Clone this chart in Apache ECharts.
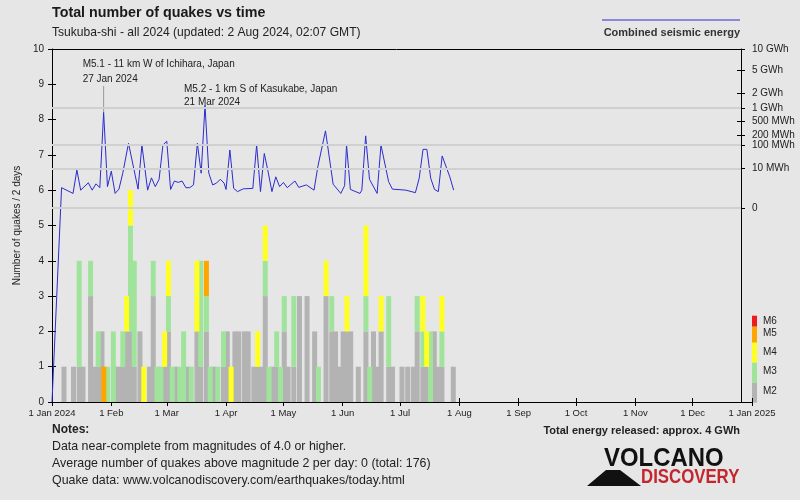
<!DOCTYPE html>
<html><head><meta charset="utf-8">
<script src="https://cdn.jsdelivr.net/npm/echarts@6/dist/echarts.min.js"></script>
<style>html,body{margin:0;padding:0;background:#e6e6e6}#c{width:800px;height:500px}</style>
</head><body><div id="c"></div>
<script>
// ---------------- DATA ----------------
const barDates = ['2024-01-06','2024-01-11','2024-01-14','2024-01-16','2024-01-20','2024-01-22','2024-01-24','2024-01-26','2024-01-27','2024-01-29',
 '2024-02-01','2024-02-02','2024-02-04','2024-02-06','2024-02-08','2024-02-10','2024-02-12','2024-02-15','2024-02-17','2024-02-20',
 '2024-02-22','2024-02-24','2024-02-26','2024-02-28','2024-03-01','2024-03-03','2024-03-05','2024-03-07','2024-03-09','2024-03-11',
 '2024-03-13','2024-03-16','2024-03-18','2024-03-21','2024-03-23','2024-03-25','2024-03-27','2024-03-30','2024-04-01','2024-04-03',
 '2024-04-05','2024-04-07','2024-04-10','2024-04-12','2024-04-15','2024-04-17','2024-04-19','2024-04-21','2024-04-23','2024-04-25',
 '2024-04-27','2024-04-29','2024-05-01','2024-05-03','2024-05-06','2024-05-09','2024-05-13','2024-05-17','2024-05-19','2024-05-23',
 '2024-05-26','2024-05-28','2024-05-30','2024-06-01','2024-06-03','2024-06-05','2024-06-09','2024-06-13','2024-06-15','2024-06-17',
 '2024-06-19','2024-06-21','2024-06-25','2024-06-27','2024-07-02','2024-07-05','2024-07-08','2024-07-10','2024-07-13','2024-07-15',
 '2024-07-17','2024-07-19','2024-07-21','2024-07-23','2024-07-29'];
const m2 = [1,1,1,1,3,1,1,2,0,0, 0,1,1,1,2,2,1,2,0,1, 3,0,0,1,2,0,1,0,0,1, 0,2,1,2,0,1,0,1,2,0,
            2,2,2,2,1,1,1,3,0,1, 1,0,2,1,1,3,3,2,0,3, 2,2,1,2,2,2,1,2,0,2, 1,2,1,1,1,1,1,2,1,1, 0,2,1,1,1];
const m3 = [0,0,3,0,1,0,1,0,0,1, 2,0,0,1,0,3,3,0,0,0, 1,1,1,0,1,1,0,1,2,0, 1,0,3,1,1,0,1,1,0,0,
            0,0,0,0,0,0,0,1,1,0, 1,1,1,0,2,0,0,0,1,0, 1,0,0,0,0,0,0,1,1,0, 0,0,2,0,0,0,0,1,1,0, 2,0,0,1,0];
const m4 = [0,0,0,0,0,0,0,0,0,0, 0,0,0,0,1,1,0,0,1,0, 0,0,0,1,1,0,0,0,0,0, 0,2,0,0,0,0,0,0,0,1,
            0,0,0,0,0,1,0,1,0,0, 0,0,0,0,0,0,0,0,0,1, 0,0,0,0,1,0,0,2,0,0, 0,1,0,0,0,0,0,0,1,1, 0,0,0,1,0];
const m5 = [0,0,0,0,0,0,0,0,1,0, 0,0,0,0,0,0,0,0,0,0, 0,0,0,0,0,0,0,0,0,0, 0,0,0,1,0,0,0,0,0,0,
            0,0,0,0,0,0,0,0,0,0, 0,0,0,0,0,0,0,0,0,0, 0,0,0,0,0,0,0,0,0,0, 0,0,0,0,0,0,0,0,0,0, 0,0,0,0,0];
const m6 = barDates.map(() => 0);

const energyDates = ['2024-01-06','2024-01-12','2024-01-14','2024-01-16','2024-01-20','2024-01-22','2024-01-24','2024-01-26','2024-01-28','2024-01-30',
 '2024-02-01','2024-02-03','2024-02-05','2024-02-07','2024-02-10','2024-02-15','2024-02-17','2024-02-20','2024-02-22','2024-02-24',
 '2024-02-26','2024-02-28','2024-03-01','2024-03-03','2024-03-05','2024-03-07','2024-03-09','2024-03-11','2024-03-13','2024-03-15',
 '2024-03-17','2024-03-19','2024-03-21','2024-03-23','2024-03-25','2024-03-27','2024-03-29','2024-03-31','2024-04-01','2024-04-03',
 '2024-04-05','2024-04-07','2024-04-10','2024-04-11','2024-04-15','2024-04-17','2024-04-19','2024-04-21','2024-04-23','2024-04-25',
 '2024-04-27','2024-04-29','2024-05-01','2024-05-03','2024-05-07','2024-05-09','2024-05-13','2024-05-17','2024-05-19','2024-05-23',
 '2024-05-27','2024-05-31','2024-06-02','2024-06-03','2024-06-05','2024-06-10','2024-06-11','2024-06-13','2024-06-15','2024-06-19',
 '2024-06-21','2024-06-25','2024-06-27','2024-07-04','2024-07-09','2024-07-11','2024-07-13','2024-07-15','2024-07-17','2024-07-19',
 '2024-07-21','2024-07-23','2024-07-27','2024-07-29'];
const energyMWh = [0.36,0.07,8,0.19,1.05,0.19,0.85,0.36,800,0.46,
 6.9,0.07,0.25,5.2,114,0.25,100,0.19,2.55,0.46,
 2.0,100,134,0.23,1.47,1.13,1.47,0.36,0.36,0.68,
 114,5.2,1150,5.2,0.68,0.98,2.0,0.98,0.23,66,
 0.30,0.124,0.27,0.19,0.30,100,0.124,48.6,6.3,0.124,
 3.0,0.46,1.13,0.36,1.47,0.39,0.68,0.19,12.4,274,
 0.79,0.07,0.58,100,0.23,0.07,0.19,196,2.0,0.07,
 100,1.29,0.25,0.19,0.09,2.41,70,70,2.41,0.23,
 0.124,38.6,3.0,0.19];
const energyStartDate = '2024-01-01';

const monthTicks = ['2024-01-01','2024-02-01','2024-03-01','2024-04-01','2024-05-01','2024-06-01','2024-07-01','2024-08-01','2024-09-01','2024-10-01','2024-11-01','2024-12-01','2025-01-01'];
const monthLabels = ['1 Jan 2024','1 Feb','1 Mar','1 Apr','1 May','1 Jun','1 Jul','1 Aug','1 Sep','1 Oct','1 Nov','1 Dec','1 Jan 2025'];
const energyTicksMWh = [0,10,100,200,500,1000,2000,5000,10000];
const energyTickLabels = ['0','10 MWh','100 MWh','200 MWh','500 MWh','1 GWh','2 GWh','5 GWh','10 GWh'];
const energyGridMWh = [0,10,100,1000];
const annotations = [
  {date:'2024-01-28', line1:'M5.1 - 11 km W of Ichihara, Japan', line2:'27 Jan 2024'},
  {date:'2024-03-21', line1:'M5.2 - 1 km S of Kasukabe, Japan', line2:'21 Mar 2024'}
];
const magLegend = ['M6','M5','M4','M3','M2'];
const notes = ['Data near-complete from magnitudes of 4.0 or higher.',
  'Average number of quakes above magnitude 2 per day: 0 (total: 176)',
  'Quake data: www.volcanodiscovery.com/earthquakes/today.html'];

// ---------------- STYLE / LAYOUT ----------------
const F = 'Liberation Sans, Arial, sans-serif';
const TXT = '#222';
const COLORS = {m2:'#b3b3b3', m3:'#a0e49c', m4:'#ffff22', m5:'#ffa500', m6:'#ee1c1c'};
const ZERO_LEVEL = 5.49, U_SCALE = 0.713, EXP = 0.2;   // right axis calibration vs left axis
const toU = e => Math.pow(e, EXP);
const rightMin = -ZERO_LEVEL / U_SCALE, rightMax = (10 - ZERO_LEVEL) / U_SCALE;
const ts = s => { const [y,m,d] = s.split('-').map(Number); return Date.UTC(y,m-1,d); };
const day = s => (ts(s) - ts(monthTicks[0])) / 864e5;
const dStart = day(monthTicks[0]), dEnd = day(monthTicks[monthTicks.length-1]);
const G = {left:52, right:48, top:49, bottom:98};
const rightAxisX = 741;
const dEnd1 = dStart + (dEnd - dStart) * (rightAxisX - G.left) / (800 - G.right - G.left);
const monthDays = monthTicks.map(day);

function stackSeries(name, arr, color) {
  return {type:'bar', name, stack:'q', xAxisIndex:0, yAxisIndex:0, barWidth:5, silent:true, z:2,
    itemStyle:{color}, data: barDates.map((d,i)=>[ts(d), arr[i]])};
}
const tickU = energyTicksMWh.map(toU);
const nearestLabel = (vals, labels) => v => { let b=0; vals.forEach((u,i)=>{ if (Math.abs(u-v) < Math.abs(vals[b]-v)) b=i; }); return labels[b]; };
const axisBlack = {show:true, onZero:false, lineStyle:{color:'#000', width:1}};
const noLine = {show:false, onZero:false};
const off = {show:false};

const option = {
  backgroundColor:'#e6e6e6',
  animation:false,
  grid:[
    {left:G.left, right:G.right, top:G.top, bottom:G.bottom},
    {left:G.left, right:800-rightAxisX, top:G.top, bottom:G.bottom}
  ],
  xAxis:[
    {type:'time', gridIndex:0, min:ts(monthTicks[0]), max:ts(monthTicks[monthTicks.length-1]), position:'bottom',
     axisLine:noLine, axisTick:off, axisLabel:off, splitLine:off},
    {type:'value', gridIndex:0, min:dStart, max:dEnd, position:'bottom', axisLine:axisBlack,
     axisTick:{show:true, customValues:monthDays, length:4, lineStyle:{color:'#000'}},
     axisLabel:{customValues:monthDays, color:TXT, fontFamily:F, fontSize:9.5, margin:6,
       formatter: nearestLabel(monthDays, monthLabels)},
     splitLine:off},
    {type:'value', gridIndex:0, min:dStart, max:dEnd, position:'bottom', axisLine:noLine,
     axisTick:{show:true, inside:true, customValues:monthDays, length:4, lineStyle:{color:'#000'}},
     axisLabel:off, splitLine:off},
    {type:'value', gridIndex:1, min:dStart, max:dEnd1, position:'top', axisLine:axisBlack,
     axisTick:off, axisLabel:off, splitLine:off}
  ],
  yAxis:[
    {type:'value', gridIndex:0, min:0, max:10, interval:1, position:'left', axisLine:axisBlack,
     axisTick:{show:true, length:4, lineStyle:{color:'#000'}},
     axisLabel:{color:TXT, fontFamily:F, fontSize:10, margin:8},
     splitLine:off,
     name:'Number of quakes / 2 days', nameLocation:'middle', nameGap:30,
     nameTextStyle:{color:TXT, fontFamily:F, fontSize:10}},
    {type:'value', gridIndex:0, min:0, max:10, interval:1, position:'left', axisLine:noLine,
     axisTick:{show:true, inside:true, length:4, lineStyle:{color:'#000'}}, axisLabel:off, splitLine:off},
    {type:'value', gridIndex:1, min:rightMin, max:rightMax, position:'right', axisLine:axisBlack,
     axisTick:{show:true, customValues:tickU, length:4, lineStyle:{color:'#000'}},
     axisLabel:{customValues:tickU, formatter:nearestLabel(tickU, energyTickLabels), color:TXT, fontFamily:F, fontSize:10, margin:11},
     splitLine:off},
    {type:'value', gridIndex:1, min:rightMin, max:rightMax, position:'right', axisLine:noLine,
     axisTick:{show:true, inside:true, customValues:tickU, length:4, lineStyle:{color:'#000'}},
     axisLabel:off, splitLine:off}
  ],
  series:[
    {type:'line', xAxisIndex:3, yAxisIndex:2, data:[], z:1, silent:true,
     markLine:{silent:true, symbol:['none','none'], label:{show:false},
       lineStyle:{color:'#d0d0d0', width:2, type:'solid'},
       data: energyGridMWh.map(e=>({yAxis: toU(e)}))}},
    stackSeries('M2', m2, COLORS.m2),
    stackSeries('M3', m3, COLORS.m3),
    stackSeries('M4', m4, COLORS.m4),
    stackSeries('M5', m5, COLORS.m5),
    stackSeries('M6', m6, COLORS.m6),
    {type:'line', name:'Combined seismic energy', xAxisIndex:3, yAxisIndex:2, z:3, silent:true,
     symbol:'none', lineStyle:{color:'#2b2bd0', width:1},
     data: [[day(energyStartDate), rightMin]].concat(energyDates.map((d,i)=>[day(d), toU(energyMWh[i])]))}
  ]
};

const chart = echarts.init(document.getElementById('c'));
chart.setOption(option);

// ---------------- decorations ----------------
const g = [];
const txt = (x,y,text,font,fill,align) => g.push({type:'text', x, y, silent:true,
  style:{text, font, fill:fill||TXT, textAlign:align||'left', textVerticalAlign:'middle'}});
txt(52, 13, 'Total number of quakes vs time', 'bold 14.3px '+F, '#1a1a1a');
txt(52, 33, 'Tsukuba-shi - all 2024 (updated: 2 Aug 2024, 02:07 GMT)', '12.1px '+F, TXT);
g.push({type:'line', silent:true, shape:{x1:602,y1:20,x2:740,y2:20}, style:{stroke:'#2b2bd0', lineWidth:1}});
txt(740, 33, 'Combined seismic energy', 'bold 11px '+F, '#333', 'right');
const magBoxes = [[315.7,326.7,COLORS.m6],[326.7,342.7,COLORS.m5],[342.7,362.7,COLORS.m4],[362.7,382.7,COLORS.m3],[382.7,402.7,COLORS.m2]];
const magLabelY = [321,333.5,352,371.5,391];
magBoxes.forEach((b,i)=>{
  g.push({type:'rect', silent:true, shape:{x:752,y:b[0],width:5,height:b[1]-b[0]}, style:{fill:b[2]}});
  txt(763, magLabelY[i], magLegend[i], '10px '+F, TXT);
});
const annLayout = [{dx:-21, y1:64, y2:79, stemTop:86}, {dx:-21, y1:89, y2:102.5, stemTop:108}];
annotations.forEach((a,k)=>{
  const i = energyDates.indexOf(a.date);
  const p = chart.convertToPixel({xAxisIndex:3, yAxisIndex:2}, [day(a.date), toU(energyMWh[i])]);
  const L = annLayout[k];
  txt(p[0]+L.dx, L.y1, a.line1, '10px '+F, TXT);
  txt(p[0]+L.dx, L.y2, a.line2, '10px '+F, TXT);
  if (p[1] > L.stemTop) g.push({type:'line', silent:true, z:-1, shape:{x1:p[0],y1:L.stemTop,x2:p[0],y2:p[1]}, style:{stroke:'#999', lineWidth:1}});
});
txt(52, 430, 'Notes:', 'bold 12px '+F, TXT);
notes.forEach((n,i)=>txt(52, 447+17*i, n, '12.4px '+F, TXT));
txt(740, 431, 'Total energy released: approx. 4 GWh', 'bold 11px '+F, TXT, 'right');
g.push({type:'polygon', silent:true, shape:{points:[[587,486],[606,470],[620,470],[641,486]]}, style:{fill:'#111'}});
g.push({type:'text', silent:true, x:604, y:459, scaleX:0.92, originX:0, originY:0,
  style:{text:'VOLCANO', font:'bold 26px '+F, fill:'#111', textAlign:'left', textVerticalAlign:'middle'}});
g.push({type:'text', silent:true, x:641, y:477.5, scaleX:0.8, originX:0, originY:0,
  style:{text:'DISCOVERY', font:'bold 21px '+F, fill:'#c1272d', textAlign:'left', textVerticalAlign:'middle'}});
chart.setOption({graphic: g});
</script></body></html>
